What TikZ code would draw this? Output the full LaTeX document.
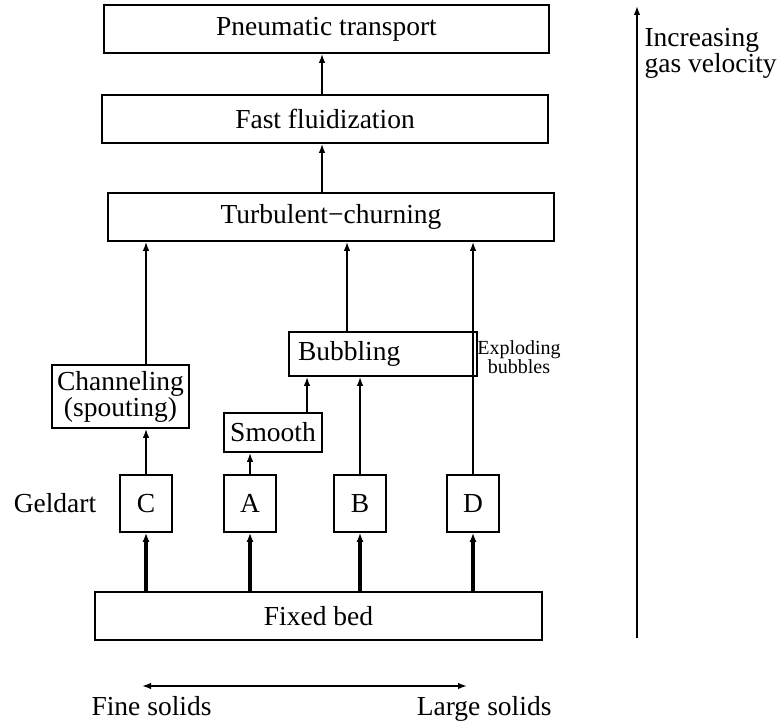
\documentclass[tikz,border=0pt]{standalone}
\usepackage{fontspec}
\setmainfont{Liberation Serif}
\usetikzlibrary{arrows.meta}
\begin{document}
\begin{tikzpicture}[x=1pt,y=-1pt,
  every node/.style={font=\fontsize{27.5}{26}\selectfont},
  box/.style={draw,line width=1.6pt,inner sep=0pt,anchor=center},
  arr/.style={line width=1.7pt,-{Latex[length=9pt,width=6.5pt]}},
  tharr/.style={line width=3.2pt,-{Latex[length=9pt,width=7pt]}},
  small/.style={font=\fontsize{20}{18}\selectfont}]
\useasboundingbox (0,0) rectangle (779,722);
% boxes
\node[box,minimum width=445pt,minimum height=48pt] (pt) at (326.5,29) {Pneumatic transport};
\node[box,minimum width=446pt,minimum height=48pt] (ff) at (325,119) {Fast fluidization};
\node[box,minimum width=446pt,minimum height=48pt] (tc) at (331,217) {Turbulent−churning};
\node[box,minimum width=137pt,minimum height=63pt,align=center] (ch) at (120.5,396.5) {Channeling\\(spouting)};
\node[box,minimum width=98pt,minimum height=39pt] (sm) at (273,432.5) {Smooth};
\node[box,minimum height=44pt,text width=170pt,inner xsep=9pt,align=left] (bu) at (383,354) {Bubbling};
\node[box,minimum width=52pt,minimum height=57pt] (C) at (146,503.5) {C};
\node[box,minimum width=52pt,minimum height=57pt] (A) at (250,503.5) {A};
\node[box,minimum width=52pt,minimum height=57pt] (B) at (360,503.5) {B};
\node[box,minimum width=52pt,minimum height=57pt] (D) at (473,503.5) {D};
\node[box,minimum width=447pt,minimum height=48pt] (fb) at (318.5,616) {Fixed bed};
% labels
\node[anchor=base] (geld) at (55,512) {Geldart};
\node[small,align=center] (expl) at (519,357) {Exploding\\bubbles};
\node[anchor=base west] (fine) at (88,715) {Fine solids};
\node[anchor=base east] (large) at (555,715) {Large solids};
\node[align=left,anchor=west] (incr) at (641,53) {Increasing\\gas velocity};
% column coordinates
\coordinate (xm) at (322,0);
\coordinate (xs) at (307,0);
\coordinate (xb) at (347,0);
% arrows
\draw[arr] (ff.north -| xm) -- (pt.south -| xm);
\draw[arr] (tc.north -| xm) -- (ff.south -| xm);
\draw[tharr] (fb.north -| C.south) -- (C.south);
\draw[tharr] (fb.north -| A.south) -- (A.south);
\draw[tharr] (fb.north -| B.south) -- (B.south);
\draw[tharr] (fb.north -| D.south) -- (D.south);
\draw[arr] (C.north) -- (ch.south -| C.north);
\draw[arr] (ch.north -| C.north) -- (tc.south -| C.north);
\draw[arr] (A.north) -- (sm.south -| A.north);
\draw[arr] (sm.north -| xs) -- (bu.south -| xs);
\draw[arr] (B.north) -- (bu.south -| B.north);
\draw[arr] (bu.north -| xb) -- (tc.south -| xb);
\draw[arr] (D.north) -- (tc.south -| D.north);
% axes
\coordinate (vb) at (637,638);
\coordinate (vt) at (637,6);
\draw[arr] (vb) -- (vt);
\coordinate (sl) at (142,686);
\coordinate (sr) at (467,686);
\draw[line width=1.7pt,{Latex[length=9pt,width=6.5pt]}-{Latex[length=9pt,width=6.5pt]}] (sl) -- (sr);
\end{tikzpicture}
\end{document}
